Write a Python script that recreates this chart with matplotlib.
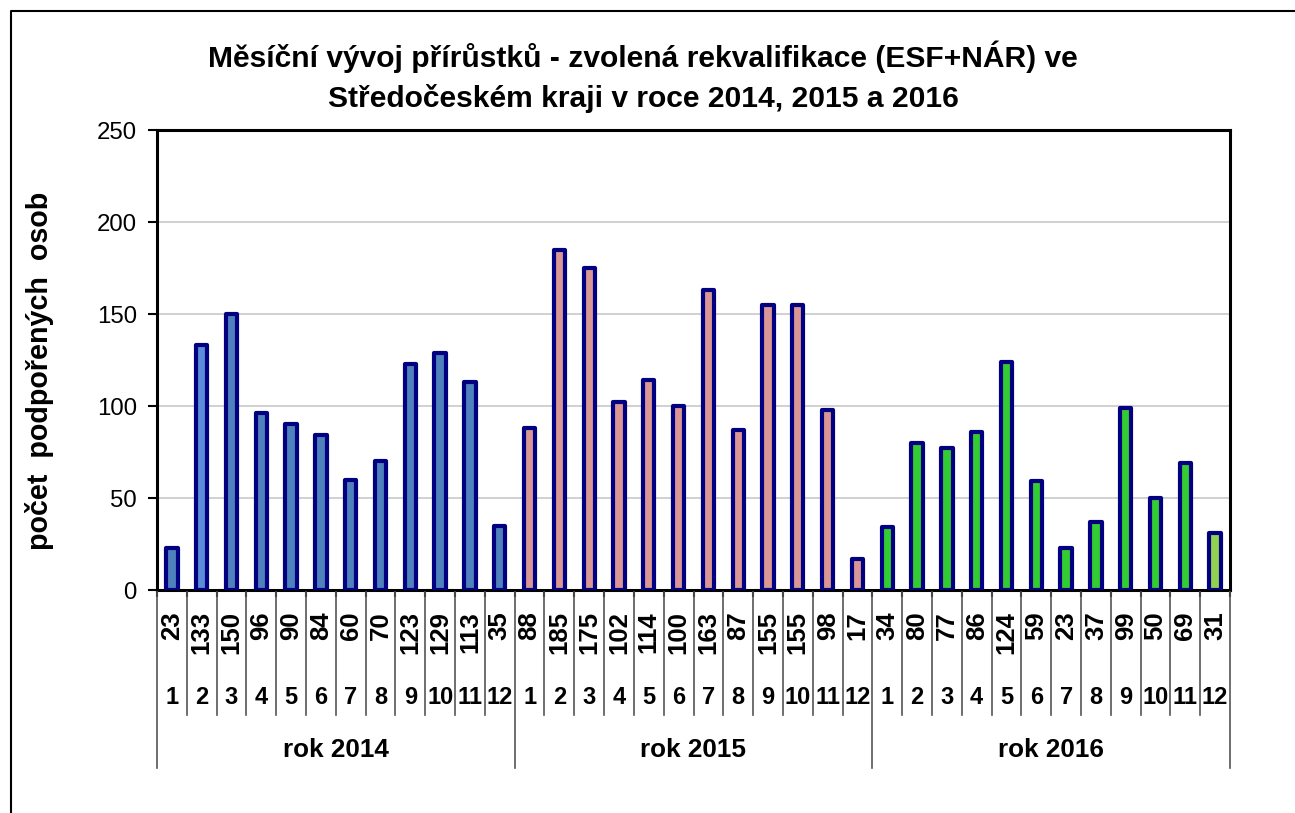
import matplotlib
matplotlib.use("Agg")
import matplotlib.pyplot as plt
from matplotlib.lines import Line2D
from matplotlib.transforms import blended_transform_factory

# Monthly counts of supported persons per year
months = [str(m) for m in range(1, 13)]
years = ["rok 2014", "rok 2015", "rok 2016"]
values_2014 = [23, 133, 150, 96, 90, 84, 60, 70, 123, 129, 113, 35]
values_2015 = [88, 185, 175, 102, 114, 100, 163, 87, 155, 155, 98, 17]
values_2016 = [34, 80, 77, 86, 124, 59, 23, 37, 99, 50, 69, 31]
y_ticks = [0, 50, 100, 150, 200, 250]

title_line1 = "Měsíční vývoj přírůstků - zvolená rekvalifikace (ESF+NÁR) ve"
title_line2 = "Středočeském kraji v roce 2014, 2015 a 2016"
y_label = "počet  podpořených  osob"

# bar fill colours per year (a couple of months carry a slightly different tint)
colors_2014 = ["#4F81BD"] * 12
colors_2014[1] = "#5B8DD9"
colors_2015 = ["#D99694"] * 12
colors_2016 = ["#33CC33"] * 12
colors_2016[11] = "#92D050"
edge_color = "#000080"

plt.rcParams["font.family"] = ["Liberation Sans", "DejaVu Sans"]

W, H = 1295, 813
fig = plt.figure(figsize=(W / 100, H / 100), dpi=100)


def fx(px):
    return px / W


def fy(py):
    return 1 - py / H


ax = fig.add_axes([fx(157), fy(590), fx(1230) - fx(157), (590 - 130) / H])

all_values = values_2014 + values_2015 + values_2016
all_colors = colors_2014 + colors_2015 + colors_2016
n = len(all_values)
xs = list(range(n))

bars = ax.bar(xs, all_values, width=0.38, color=all_colors,
              edgecolor=edge_color, linewidth=3.0, zorder=3)
for b in bars:
    b.set_joinstyle("round")

ax.set_xlim(-0.5, n - 0.5)
ax.set_ylim(0, 250)
ax.set_yticks(y_ticks)
ax.set_yticklabels([str(t) for t in y_ticks], fontsize=17.3)
ax.yaxis.grid(True, color="#C8C8C8", linewidth=1.2, zorder=0)
ax.set_axisbelow(True)
ax.tick_params(axis="y", direction="out", length=6.5, width=1.5, pad=8)
ax.set_xticks([i - 0.5 for i in range(n + 1)])
ax.set_xticklabels([])
ax.tick_params(axis="x", direction="out", length=5, width=1.5)
for s in ax.spines.values():
    s.set_linewidth(2.2)
    s.set_color("black")

# category table below the plot area
trans = blended_transform_factory(ax.transData, fig.transFigure)
for i, v in enumerate(all_values):
    ax.text(i, fy(611), str(v), transform=trans, rotation=90, ha="center",
            va="top", fontsize=18.5, fontweight="bold", clip_on=False)
    ax.text(i, fy(697), months[i % 12], transform=trans, ha="center",
            va="center", fontsize=17, fontweight="bold", clip_on=False)

for i in range(n + 1):
    bottom = 768 if i % 12 == 0 else 715
    fig.add_artist(Line2D([i - 0.5, i - 0.5], [fy(592), fy(bottom)],
                          transform=trans, color="#555555", linewidth=1.2))

for k, yr in enumerate(years):
    ax.text(k * 12 + 5.5, fy(750), yr, transform=trans, ha="center",
            va="center", fontsize=18.8, fontweight="bold", clip_on=False)

fig.text(fx(643), fy(67), title_line1, ha="center", va="baseline",
         fontsize=21.6, fontweight="bold")
fig.text(fx(643), fy(107), title_line2, ha="center", va="baseline",
         fontsize=21.6, fontweight="bold")
fig.text(fx(40), fy(371), y_label, ha="center", va="center", rotation=90,
         fontsize=20.6, fontweight="bold")

# outer chart frame (left and top edges visible)
fig.add_artist(Line2D([fx(11), fx(11), fx(1300)], [fy(820), fy(11), fy(11)],
                      transform=fig.transFigure, color="black", linewidth=1.5))

fig.savefig("out.png", dpi=100, facecolor="white")
